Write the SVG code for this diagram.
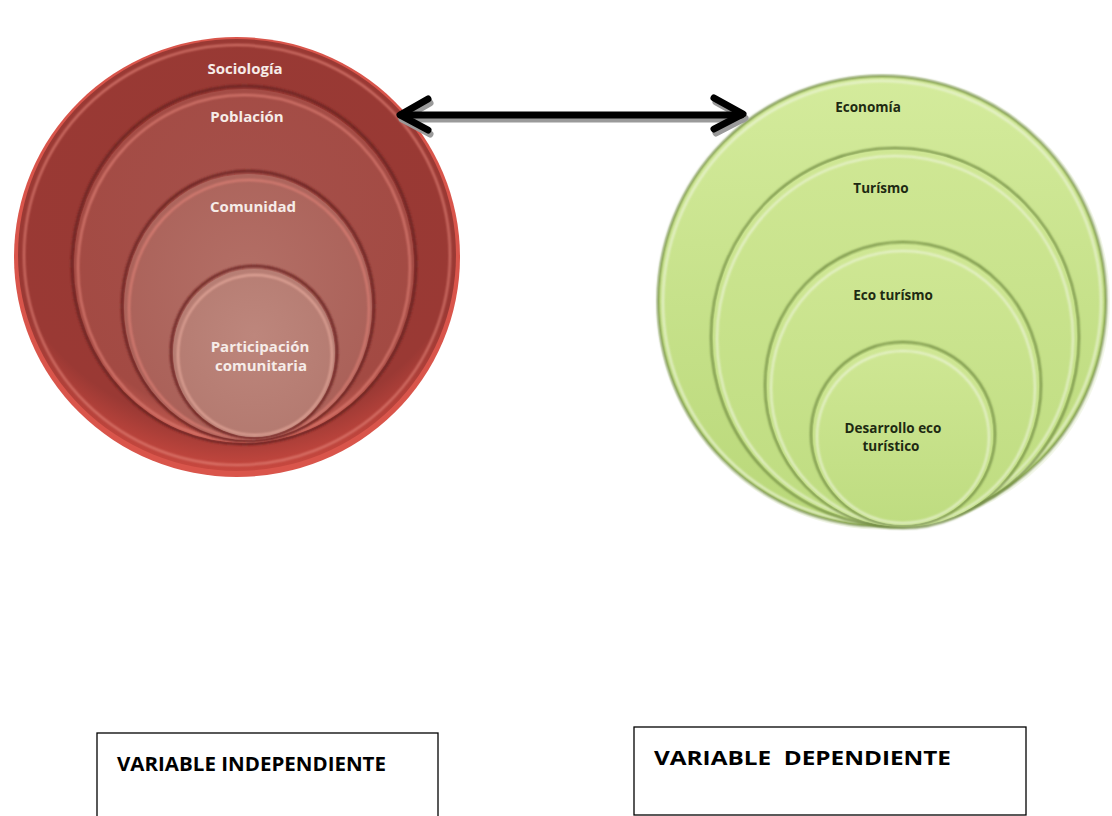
<svg xmlns="http://www.w3.org/2000/svg" width="1112" height="816" viewBox="0 0 1112 816">
  <style>
    .lbl-red { font-family: "Open Sans", "Noto Sans", sans-serif; font-weight: bold; font-size: 15px; fill: #f6ece8; text-anchor: middle; }
    .lbl-green { font-family: "Open Sans", "Noto Sans", sans-serif; font-weight: bold; font-size: 13.5px; fill: #1e2a12; text-anchor: middle; }
    .box { fill: #ffffff; stroke: #000000; stroke-width: 1.3; }
    .box-text { font-family: "Open Sans", "Liberation Sans", sans-serif; font-weight: bold; font-size: 19px; fill: #000000; }
    .rim-red { fill: none; stroke: #6a2420; stroke-width: 2.5; }
    .hl-red { fill: none; stroke: #e5857a; stroke-width: 2; opacity: 0.8; }
    .rim-green { fill: none; stroke: #6f8a40; stroke-width: 2; }
    .hl-green { fill: none; stroke: #eef5dc; stroke-width: 2; opacity: 0.85; }
    .arrow { fill: none; stroke: #000000; stroke-width: 7; stroke-linecap: round; stroke-linejoin: round; }
    .arrow-shadow { fill: none; stroke: #9a9a9a; stroke-width: 7; stroke-linecap: round; stroke-linejoin: round; }
  </style>
  <defs>
    <radialGradient id="red1" cx="0.5" cy="0.35" r="0.65">
      <stop offset="0" stop-color="#973a34"/>
      <stop offset="0.85" stop-color="#9a3934"/>
      <stop offset="1" stop-color="#c8483f"/>
    </radialGradient>
    <radialGradient id="red2" cx="0.5" cy="0.35" r="0.65">
      <stop offset="0" stop-color="#a5504a"/>
      <stop offset="0.9" stop-color="#a34a43"/>
      <stop offset="1" stop-color="#c45a50"/>
    </radialGradient>
    <radialGradient id="red3" cx="0.5" cy="0.4" r="0.6">
      <stop offset="0" stop-color="#b36f66"/>
      <stop offset="1" stop-color="#aa6058"/>
    </radialGradient>
    <radialGradient id="red4" cx="0.5" cy="0.4" r="0.6">
      <stop offset="0" stop-color="#bd867c"/>
      <stop offset="1" stop-color="#b47a70"/>
    </radialGradient>
    <linearGradient id="green1" x1="0" y1="0" x2="0" y2="1">
      <stop offset="0" stop-color="#d4eb9c"/>
      <stop offset="1" stop-color="#b9d879"/>
    </linearGradient>
    <linearGradient id="green2" x1="0" y1="0" x2="0" y2="1">
      <stop offset="0" stop-color="#cfe794"/>
      <stop offset="1" stop-color="#bedc80"/>
    </linearGradient>
    <filter id="soft" x="-10%" y="-10%" width="120%" height="120%">
      <feGaussianBlur stdDeviation="1.2"/>
    </filter>
  </defs>

  <!-- independent variable rings -->
  <g id="sociologia">
    <ellipse cx="237" cy="257" rx="223" ry="220" fill="#d9554b"/>
    <ellipse cx="237" cy="255" rx="219" ry="216" fill="url(#red1)"/>
    <ellipse cx="237" cy="255" rx="213" ry="210" class="hl-red" filter="url(#soft)"/>
    <text x="245" y="74" class="lbl-red">Sociología</text>
  </g>
  <g id="poblacion">
    <ellipse cx="244" cy="265" rx="172" ry="179" class="rim-red" filter="url(#soft)"/>
    <ellipse cx="244" cy="266" rx="170" ry="177" fill="url(#red2)"/>
    <ellipse cx="244" cy="268" rx="166" ry="173" class="hl-red" filter="url(#soft)"/>
    <text x="247" y="122" class="lbl-red">Población</text>
  </g>
  <g id="comunidad">
    <ellipse cx="248" cy="306" rx="126" ry="135" class="rim-red" filter="url(#soft)"/>
    <ellipse cx="248" cy="307" rx="124" ry="133" fill="url(#red3)"/>
    <ellipse cx="249" cy="309" rx="120" ry="129" class="hl-red" filter="url(#soft)"/>
    <text x="253" y="212" class="lbl-red">Comunidad</text>
  </g>
  <g id="participacion">
    <ellipse cx="254" cy="352" rx="83" ry="86" class="rim-red" filter="url(#soft)"/>
    <ellipse cx="254" cy="353" rx="81" ry="84" fill="url(#red4)"/>
    <ellipse cx="255" cy="355" rx="77" ry="80" stroke="#f0b3a5" stroke-width="2" fill="none" opacity="0.8" filter="url(#soft)"/>
    <text x="260" y="352" class="lbl-red">Participación</text>
    <text x="261" y="371" class="lbl-red">comunitaria</text>
  </g>

  <!-- dependent variable rings -->
  <g id="economia">
    <ellipse cx="883" cy="302" rx="227" ry="228" fill="#f4f8ec"/>
    <ellipse cx="882" cy="301" rx="224" ry="225" fill="url(#green1)"/>
    <ellipse cx="882" cy="301" rx="224" ry="225" class="rim-green" filter="url(#soft)"/>
    <ellipse cx="882" cy="302" rx="219" ry="221" class="hl-green" filter="url(#soft)"/>
    <text x="868" y="112" class="lbl-green">Economía</text>
  </g>
  <g id="turismo">
    <ellipse cx="895" cy="337" rx="184" ry="189" class="rim-green" filter="url(#soft)"/>
    <ellipse cx="895" cy="337" rx="182" ry="187" fill="url(#green2)"/>
    <ellipse cx="895" cy="339" rx="178" ry="183" class="hl-green" filter="url(#soft)"/>
    <text x="881" y="193" class="lbl-green">Turísmo</text>
  </g>
  <g id="ecoturismo">
    <ellipse cx="903" cy="385" rx="138" ry="143" class="rim-green" filter="url(#soft)"/>
    <ellipse cx="903" cy="386" rx="136" ry="141" fill="url(#green2)"/>
    <ellipse cx="903" cy="388" rx="132" ry="137" class="hl-green" filter="url(#soft)"/>
    <text x="893" y="300" class="lbl-green">Eco turísmo</text>
  </g>
  <g id="desarrollo">
    <ellipse cx="903" cy="434" rx="92" ry="92" class="rim-green" filter="url(#soft)"/>
    <ellipse cx="903" cy="435" rx="90" ry="90" fill="url(#green2)"/>
    <ellipse cx="903" cy="437" rx="86" ry="86" class="hl-green" filter="url(#soft)"/>
    <text x="893" y="433" class="lbl-green">Desarrollo eco</text>
    <text x="891" y="451" class="lbl-green">turístico</text>
  </g>

  <!-- connector between the two variables -->
  <g id="connectors">
    <g transform="translate(2,4)">
      <line x1="401" y1="115" x2="741" y2="115" class="arrow-shadow"/>
      <polyline points="428,99 400,115 428,130" class="arrow-shadow"/>
      <polyline points="714,98 743,114 714,129" class="arrow-shadow"/>
    </g>
    <line x1="401" y1="115" x2="741" y2="115" class="arrow"/>
    <polyline points="428,99 400,115 428,130" class="arrow"/>
    <polyline points="714,98 743,114 714,129" class="arrow"/>
  </g>

  <!-- variable boxes -->
  <g id="box-independiente">
    <rect x="97" y="733" width="341" height="100" class="box"/>
    <text x="117" y="771" class="box-text" textLength="269" lengthAdjust="spacingAndGlyphs">VARIABLE INDEPENDIENTE</text>
  </g>
  <g id="box-dependiente">
    <rect x="634" y="727" width="392" height="88" class="box"/>
    <text x="654" y="765" class="box-text" textLength="297" lengthAdjust="spacingAndGlyphs" xml:space="preserve">VARIABLE  DEPENDIENTE</text>
  </g>
</svg>
